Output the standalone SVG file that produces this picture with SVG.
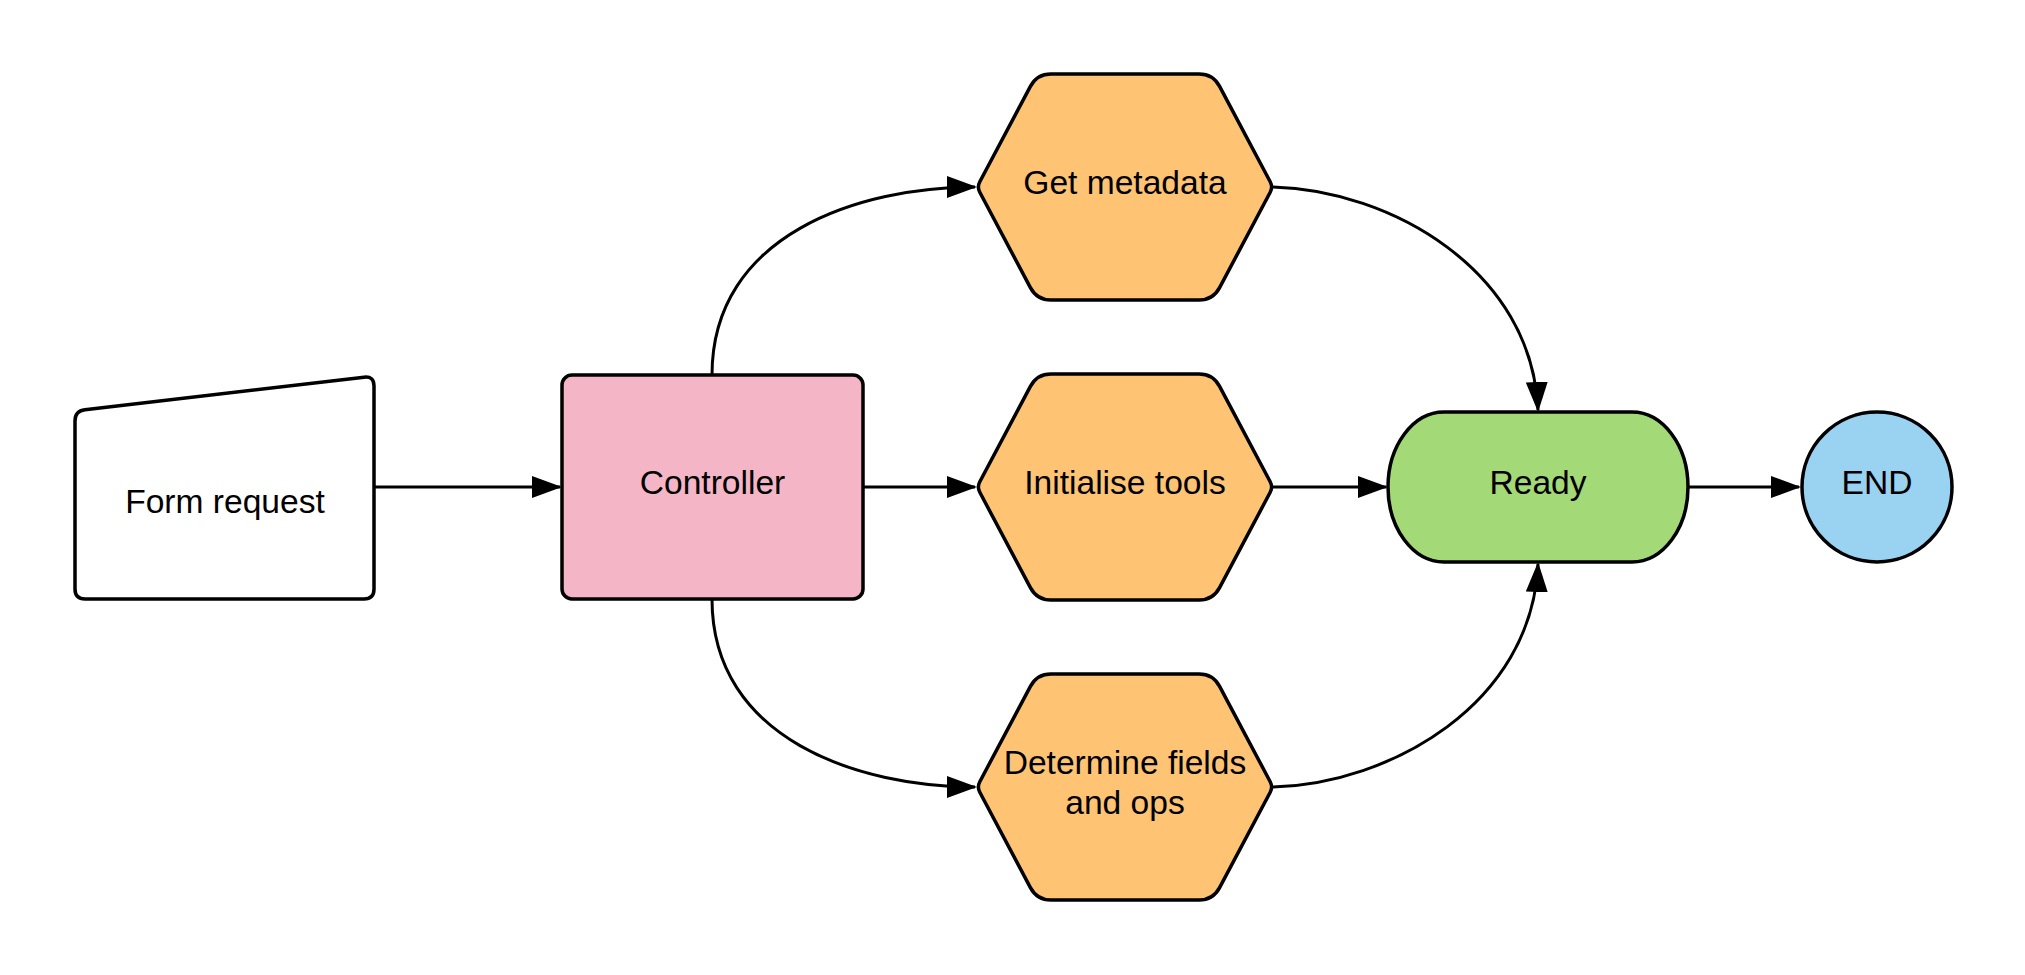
<svg xmlns="http://www.w3.org/2000/svg" width="2025" height="975" viewBox="0 0 2025 975">
  <style>
    .node { stroke: #000000; stroke-width: 3.5; stroke-linejoin: round; }
    .label { font-family: "Liberation Sans", Arial, sans-serif; font-size: 33.6px; fill: #000000; text-anchor: middle; }
    .conn { fill: none; stroke: #000000; stroke-width: 3; marker-end: url(#arrow); }
    .hex { fill: #FFC374; }
  </style>
  <defs>
    <marker id="arrow" markerUnits="userSpaceOnUse" markerWidth="30" markerHeight="22" viewBox="0 0 30 22" refX="28" refY="11" orient="auto">
      <path d="M0,0 L30,11 L0,22 Z" fill="#000000"/>
    </marker>
    <path id="hexShape" d="M -94.6 -100.6 Q -88 -113 -74 -113 H 74 Q 88 -113 94.6 -100.6 L 145.2 -5.3 Q 148 0 145.2 5.3 L 94.6 100.6 Q 88 113 74 113 H -74 Q -88 113 -94.6 100.6 L -145.2 5.3 Q -148 0 -145.2 -5.3 Z"/>
  </defs>
  <rect x="0" y="0" width="2025" height="975" fill="#FFFFFF"/>

  <g id="form-request">
    <path class="node" fill="#FFFFFF" d="M 85 599 H 364 Q 374 599 374 589 V 386 Q 374 376 364.1 377.2 L 84.9 409.8 Q 75 411 75 421 V 589 Q 75 599 85 599 Z"/>
    <text class="label" x="225" y="513">Form request</text>
  </g>

  <g id="controller">
    <rect class="node" x="562" y="375" width="301" height="224" rx="10" ry="10" fill="#F4B6C7"/>
    <text class="label" x="712.5" y="494">Controller</text>
  </g>

  <g id="get-metadata">
    <use href="#hexShape" class="node hex" transform="translate(1125,187)"/>
    <text class="label" x="1125" y="194">Get metadata</text>
  </g>

  <g id="initialise-tools">
    <use href="#hexShape" class="node hex" transform="translate(1125,487)"/>
    <text class="label" x="1125" y="494">Initialise tools</text>
  </g>

  <g id="determine-fields">
    <use href="#hexShape" class="node hex" transform="translate(1125,787)"/>
    <text class="label" x="1125" y="774">Determine fields</text>
    <text class="label" x="1125" y="814">and ops</text>
  </g>

  <g id="ready">
    <path class="node" fill="#A3D977" d="M 1444 412 H 1632 A 56 75 0 0 1 1632 562 H 1444 A 56 75 0 0 1 1444 412 Z"/>
    <text class="label" x="1538" y="494">Ready</text>
  </g>

  <g id="end">
    <circle class="node" cx="1877" cy="487" r="75" fill="#9AD2F2"/>
    <text class="label" x="1877" y="494">END</text>
  </g>

  <g id="connectors">
    <path class="conn" d="M 374 487 H 560"/>
    <path class="conn" d="M 863 487 H 975"/>
    <path class="conn" d="M 1273 487 H 1386"/>
    <path class="conn" d="M 1688 487 H 1799"/>
    <path class="conn" d="M 712 375 C 712 234 860 187 975 187"/>
    <path class="conn" d="M 712 599 C 712 740 860 787 975 787"/>
    <path class="conn" d="M 1273 187 C 1390 190 1532 270 1538 410"/>
    <path class="conn" d="M 1273 787 C 1390 784 1532 704 1538 564"/>
  </g>
</svg>
